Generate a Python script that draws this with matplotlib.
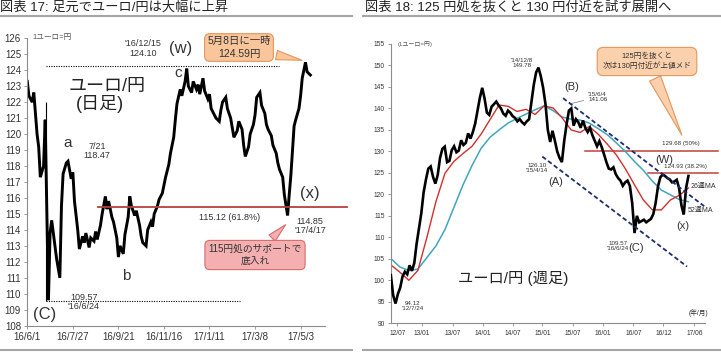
import matplotlib.pyplot as plt
import matplotlib.dates as mdates
from matplotlib.lines import Line2D
import pandas as pd

plt.rcParams['font.family'] = ['Liberation Sans', 'Noto Sans CJK JP']

W, H = 721, 355

# ---- 図表17: EUR/JPY daily, one value every 2nd business day ----
day_start = '2016-06-01'
day_close = [123.3, 122.4, 122.0, 122.6, 120.0, 119.2, 117.3, 118.0, 120.9, 109.6,
             113.8, 114.6, 113.0, 112.2, 111.0, 115.5, 117.5, 118.2, 118.3, 117.2,
             117.6, 115.8, 114.0, 112.8, 113.6, 113.2, 113.8, 112.9, 113.5, 113.3,
             113.9, 113.4, 114.3, 115.0, 116.1, 115.3, 115.8, 114.8, 114.5, 113.5,
             112.3, 113.0, 112.5, 113.7, 114.8, 116.1, 115.5, 114.9, 115.2, 114.3,
             113.6, 113.2, 113.0, 114.0, 114.5, 114.2, 115.0, 115.5, 115.9, 116.3,
             116.8, 117.3, 118.1, 118.8, 119.8, 120.9, 121.9, 122.8, 122.4, 123.3,
             124.1, 123.0, 122.6, 123.3, 122.8, 123.1, 122.5, 123.5, 122.7, 122.2,
             122.5, 121.6, 121.2, 121.0, 120.8, 121.5, 122.0, 122.3, 121.6, 121.0,
             120.4, 119.8, 120.2, 120.8, 120.3, 119.3, 118.6, 119.2, 120.0, 120.6,
             121.2, 122.3, 122.6, 121.8, 121.3, 120.6, 120.3, 119.9, 119.3, 118.8,
             118.2, 117.8, 117.3, 116.2, 114.9, 116.2, 117.4, 120.5, 120.9, 121.6,
             122.4, 123.5, 124.5, 123.9, 123.7]
day_ticks = ['2016-06-01', '2016-07-27', '2016-09-21', '2016-11-16',
             '2017-01-11', '2017-03-08', '2017-05-03']
day_tick_labels = ['16/6/1', '16/7/27', '16/9/21', '16/11/16', '17/1/11', '17/3/8', '17/5/3']
support_level = 115.45
high_level = 124.25
low_level = 109.57

# ---- 図表18: EUR/JPY weekly, one value every 2nd week ----
week_start = '2012-06-29'
week_close = [101.2, 96.5, 94.6, 96.8, 98.3, 100.9, 102.0, 101.4, 103.5, 102.2,
              104.0, 108.5, 112.0, 115.6, 120.5, 123.5, 126.0, 126.5, 124.1, 122.5,
              124.5, 128.5, 130.6, 131.1, 127.5, 127.8, 130.3, 131.2, 129.8, 130.2,
              132.6, 131.5, 132.0, 134.2, 133.0, 134.5, 136.5, 139.5, 142.5, 144.8,
              142.3, 139.0, 138.5, 140.4, 141.0, 141.6, 140.7, 140.0, 138.8, 138.3,
              139.5, 139.0, 138.2, 137.8, 137.0, 137.5, 136.8, 136.3, 137.0, 137.5,
              141.5, 145.5, 148.4, 149.5, 147.5, 144.8, 141.0, 135.0, 132.2, 134.8,
              132.5, 130.0, 128.5, 127.5, 132.5, 136.3, 139.5, 140.0, 136.0, 137.5,
              136.8, 135.5, 137.2, 135.5, 134.5, 135.5, 133.8, 132.5, 131.2, 132.4,
              131.0, 129.3, 127.5, 126.0, 125.8, 126.3, 124.7, 123.8, 123.2, 122.0,
              122.8, 123.2, 122.0, 118.0, 111.0, 115.0, 113.5, 113.8, 114.1, 113.5,
              113.9, 114.3, 115.4, 118.0, 121.8, 124.0, 124.6, 124.3, 123.8, 123.5,
              122.8, 123.0, 123.4, 121.5, 117.5, 115.3, 121.5, 124.3]
ma_end = '2017-05-12'
ma26 = [103.6, 101.9, 100.0, 102.3, 110.0, 118.3, 124.9, 127.7, 129.5, 131.2,
        134.0, 137.4, 140.8, 140.5, 139.3, 139.8, 138.6, 140.6, 140.1, 137.8,
        135.0, 134.4, 135.8, 134.0, 131.7, 129.2, 126.0, 122.3, 118.7, 116.4,
        116.4, 118.7, 119.8, 121.5]
ma52 = [105.1, 103.1, 102.3, 102.6, 105.3, 108.0, 111.8, 117.0, 122.2, 126.7,
        130.7, 133.3, 135.0, 136.6, 137.7, 138.7, 139.7, 140.6, 139.5, 138.0,
        137.5, 137.3, 136.6, 135.3, 133.9, 132.0, 130.0, 127.7, 125.6, 123.1,
        121.0, 119.9, 118.8, 118.3]
week_ticks = ['2012-08-07', '2013-01-01', '2013-07-03', '2013-12-29', '2014-06-29',
              '2014-12-21', '2015-06-23', '2015-12-17', '2016-06-17', '2016-12-14',
              '2017-06-17']
week_tick_labels = ['12/07', '13/01', '13/07', '14/01', '14/07', '15/01',
                    '15/07', '16/01', '16/07', '16/12', '17/06']
fib_levels = [130.0, 125.0]
fib_starts = ['2015-09-02', '2016-09-13']
fib_end = '2017-11-05'
upper_channel = (['2015-04-24', '2017-08-19'], [142.4, 117.1])
lower_channel = (['2014-12-21', '2017-05-04'], [128.8, 103.2])


def fp(x, y):
    # pixel position (from top-left) to figure fraction
    return x / W, 1 - y / H


def dn(s):
    return mdates.date2num(pd.Timestamp(s))


def style(ax, size):
    for s in ['top', 'right']:
        ax.spines[s].set_visible(False)
    for s in ['left', 'bottom']:
        ax.spines[s].set_color('#8c8c8c')
        ax.spines[s].set_linewidth(0.8)
    ax.tick_params(direction='out', length=2.5, width=0.6, color='#8c8c8c',
                   labelsize=size, labelcolor='#333333', pad=2)
    ax.patch.set_alpha(0)


def label(x, y, s, size, ha='center', color='#333333', **kw):
    fig.text(*fp(x, y), s, fontsize=size, ha=ha, va='center', color=color,
             linespacing=1.1, **kw)


fig = plt.figure(figsize=(W / 100, H / 100), dpi=100)

# titles and separators
fig.text(*fp(0, 8), '図表 17: 足元でユーロ/円は大幅に上昇', fontsize=9.5, va='center', color='#222222')
fig.text(*fp(365, 8), '図表 18: 125 円処を抜くと 130 円付近を試す展開へ', fontsize=9.5, va='center', color='#222222')
for x0, x1 in [(0, 352), (363, 721)]:
    for yy in [16, 350]:
        fig.add_artist(Line2D([x0 / W, x1 / W], [1 - yy / H] * 2, color='#a6a6a6', lw=1.5))

# ---------------- left chart ----------------
ax1 = fig.add_axes([27.3 / W, 1 - 325.7 / H, 297.7 / W, 287.4 / H])
style(ax1, 7)
d1 = pd.date_range(day_start, periods=len(day_close), freq='2B')
ax1.plot(d1, day_close, color='black', lw=2.1, zorder=2, solid_joinstyle='miter')
ax1.plot(pd.to_datetime(['2016-08-27', '2017-06-29']), [support_level] * 2,
         color='#b4403c', lw=1.3, clip_on=False, zorder=3)
ax1.plot(pd.to_datetime(['2016-06-24', '2017-04-06']), [high_level] * 2,
         color='black', lw=0.8, ls=(0, (1, 1.2)))
ax1.plot(pd.to_datetime(['2016-06-24', '2017-02-17']), [low_level] * 2,
         color='black', lw=0.8, ls=(0, (1, 1.2)))
ax1.vlines(pd.Timestamp('2016-06-24'), low_level, 122.0, color='black', lw=0.8)
ax1.set_xlim(pd.Timestamp('2016-06-01'), pd.Timestamp('2017-06-02'))
ax1.set_ylim(108, 126)
ax1.set_yticks(range(108, 127))
ax1.set_xticks(pd.to_datetime(day_ticks))
ax1.set_xticklabels(day_tick_labels)

label(32, 37, '1ユーロ=円', 5.5, ha='left', color='#555555')
label(143, 48.5, "'16/12/15\n124.10", 6.5)
label(181, 48, '(w)', 12)
label(107, 86, 'ユーロ/円', 13, color='#222222')
label(100, 104, '(日足)', 13, color='#222222')
label(178, 73, 'c', 11)
label(68, 143, 'a', 11)
label(97, 151, '7/21\n118.47', 6.5)
label(310, 193, '(x)', 12)
label(230, 217, '115.12 (61.8%)', 6.5)
label(310, 226, "114.85\n'17/4/17", 6.5)
label(126, 276, 'b', 11)
label(84, 302, "109.57\n'16/6/24", 6.5)
label(45, 314, '(C)', 12)

ax1.annotate('5月8日に一時\n124.59円', xy=(dn('2017-05-08'), 124.59), xycoords='data',
             xytext=(239, H - 47.5), textcoords='figure pixels', ha='center', va='center',
             fontsize=7.5, color='#333333', linespacing=1.3,
             bbox=dict(boxstyle='round,pad=0.25,rounding_size=0.5', fc='#f9c59a', ec='#e6955a', lw=0.8),
             arrowprops=dict(arrowstyle='wedge,tail_width=0.9,shrink_factor=0.5',
                             fc='#f9c59a', ec='#e6955a', lw=0.8))
ax1.annotate('115円処のサポートで\n底入れ', xy=(dn('2017-04-17'), 114.45), xycoords='data',
             xytext=(255, H - 255), textcoords='figure pixels', ha='center', va='center',
             fontsize=7, color='#333333', linespacing=1.3,
             bbox=dict(boxstyle='round,pad=0.35,rounding_size=0.5', fc='#f4b0b0', ec='#d66b6b', lw=0.8),
             arrowprops=dict(arrowstyle='wedge,tail_width=0.9,shrink_factor=0.5',
                             fc='#f4b0b0', ec='#d66b6b', lw=0.8))

# ---------------- right chart ----------------
ax2 = fig.add_axes([391 / W, 1 - 323.3 / H, 314 / W, 279.3 / H])
style(ax2, 4.8)
d2 = pd.date_range(week_start, periods=len(week_close), freq='2W-FRI')
dm = pd.date_range(week_start, ma_end, periods=len(ma26))
ax2.plot(dm, ma52, color='#3fa6bf', lw=1.1, zorder=2)
ax2.plot(dm, ma26, color='#d2302c', lw=1.0, zorder=2)
ax2.plot(d2, week_close, color='black', lw=1.9, zorder=3, solid_joinstyle='miter')
for lev, st in zip(fib_levels, fib_starts):
    ax2.plot(pd.to_datetime([st, fib_end]), [lev, lev], color='#c0403c', lw=1.1,
             clip_on=False, zorder=1)
for xs, ys in [upper_channel, lower_channel]:
    ax2.plot(pd.to_datetime(xs), ys, color='#1f2d6b', lw=1.3, ls=(0, (2.5, 1.5)), zorder=4)
ax2.set_xlim(pd.Timestamp('2012-06-30'), pd.Timestamp('2017-08-19'))
ax2.set_ylim(90, 155)
ax2.set_yticks(range(90, 156, 5))
ax2.set_xticks(pd.to_datetime(week_ticks))
ax2.set_xticklabels(week_tick_labels)

label(398, 44, '(1ユーロ=円)', 4.3, ha='left', color='#555555')
label(522, 63, "'14/12/8\n149.78", 4.5)
label(572, 87, '(B)', 8)
ax2.annotate("'15/6/4\n141.06", xy=(dn('2015-06-04'), 141.06), xycoords='data',
             xytext=(588, H - 97), textcoords='figure pixels', ha='left', va='center',
             fontsize=4.5, color='#333333', linespacing=1.1,
             arrowprops=dict(arrowstyle='-', color='#777777', lw=0.5, shrinkA=1, shrinkB=1))
label(537, 168, "126.10\n'15/4/14", 4.5)
label(556, 182, '(A)', 8)
label(681, 143, '129.68 (50%)', 4.5)
label(664, 160, '(W)', 8)
label(685, 166.5, '124.93 (38.2%)', 4.5)
label(691, 186, '26週MA', 5, ha='left')
label(688, 210, '52週MA', 5, ha='left')
label(683, 226, '(x)', 8)
label(618, 246, "109.57\n'16/6/24", 4.5)
label(636, 248, '(C)', 8)
label(513, 278, 'ユーロ/円 (週足)', 11, color='#222222')
label(413, 306, "94.12\n'12/7/24", 4.5)
label(698, 313, '(年/月)', 4.8)

ax2.annotate('125円を抜くと\n次は130円付近が上値メド', xy=(dn('2017-04-10'), 133.2), xycoords='data',
             xytext=(647, H - 61.5), textcoords='figure pixels', ha='center', va='center',
             fontsize=5.5, color='#333333', linespacing=1.4,
             bbox=dict(boxstyle='round,pad=0.7,rounding_size=0.8', fc='#fbd0ac', ec='#e6955a', lw=0.8),
             arrowprops=dict(arrowstyle='wedge,tail_width=1.6,shrink_factor=0.5',
                             fc='#fbd0ac', ec='#e6955a', lw=0.8))

fig.savefig('out.png', dpi=100)
